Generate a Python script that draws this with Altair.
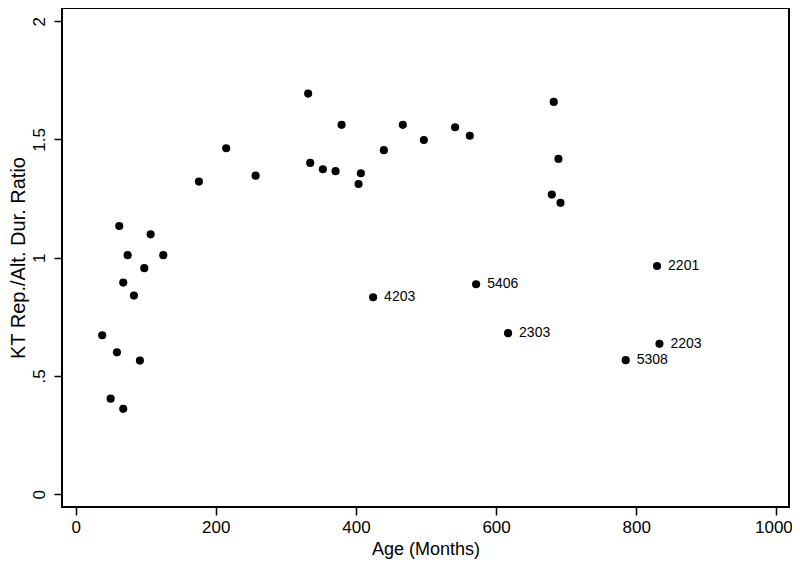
import altair as alt
import pandas as pd

# Age (months) and KT Rep./Alt. Dur. ratio
age = [62.2, 107.0, 74.2, 125.0, 97.9, 67.9, 83.2, 37.9, 58.9, 91.7, 49.9, 67.9,
       331.8, 379.5, 466.9, 541.5, 496.9, 214.8, 439.8, 334.7, 352.8, 370.9, 407.0,
       403.7, 256.8, 175.9,
       562.5, 682.3, 689.0, 679.5, 691.9,
       829.7, 424.5, 571.5, 617.1, 785.0, 833.1]
ratio = [1.134, 1.099, 1.011, 1.011, 0.956, 0.895, 0.840, 0.672, 0.600, 0.565, 0.404, 0.361,
         1.694, 1.562, 1.562, 1.552, 1.498, 1.463, 1.455, 1.401, 1.374, 1.366, 1.357,
         1.312, 1.347, 1.322,
         1.516, 1.659, 1.418, 1.267, 1.232,
         0.965, 0.833, 0.888, 0.681, 0.567, 0.636]
ids = [""] * 31 + ["2201", "4203", "5406", "2303", "5308", "2203"]

x_ticks = [0, 200, 400, 600, 800, 1000]
y_ticks = [0, 0.5, 1, 1.5, 2]

df = pd.DataFrame({"age": age, "ratio": ratio, "id": ids})

FONT = "Liberation Sans, Arial, Helvetica, sans-serif"

x_enc = alt.X(
    "age:Q",
    scale=alt.Scale(domain=[-19.5, 1018], nice=False, zero=False),
    axis=alt.Axis(
        values=x_ticks,
        title="Age (Months)",
        labelPadding=4,
        titlePadding=5,
        labelExpr="format(datum.value, 'd')",
        labelOffset={"condition": {"test": "datum.value == 1000", "value": -3}, "value": 0},
    ),
)
y_enc = alt.Y(
    "ratio:Q",
    scale=alt.Scale(domain=[-0.054, 2.056], nice=False, zero=False),
    axis=alt.Axis(
        values=y_ticks,
        title="KT Rep./Alt. Dur. Ratio",
        titleFontSize=20,
        labelAngle=270,
        labelAlign="center",
        labelBaseline="alphabetic",
        labelPadding=10,
        titlePadding=2,
        labelExpr="datum.value == 0.5 ? '.5' : format(datum.value, '~g')",
    ),
)

points = alt.Chart(df).mark_point(
    filled=True, shape="circle", size=66, color="black", opacity=1
).encode(x=x_enc, y=y_enc)

labels = alt.Chart(df).transform_filter("datum.id != ''").mark_text(
    align="left", baseline="middle", dx=11, fontSize=14, font=FONT, color="black"
).encode(x="age:Q", y="ratio:Q", text="id:N")

chart = (
    alt.layer(points, labels)
    .properties(
        width=727,
        height=499,
        autosize=alt.AutoSizeParams(type="none"),
        padding={"left": 54, "top": 0, "right": 3, "bottom": 53},
        background="white",
    )
    .configure_view(stroke="black", strokeWidth=2)
    .configure_axis(
        domain=False,
        grid=False,
        ticks=True,
        tickColor="black",
        tickWidth=1.5,
        tickSize=8,
        labelFont=FONT,
        labelFontSize=17,
        labelColor="black",
        titleFont=FONT,
        titleFontSize=18,
        titleFontWeight="normal",
        titleColor="black",
    )
)

chart.save("out.html", embed_options={"renderer": "svg", "actions": False})
